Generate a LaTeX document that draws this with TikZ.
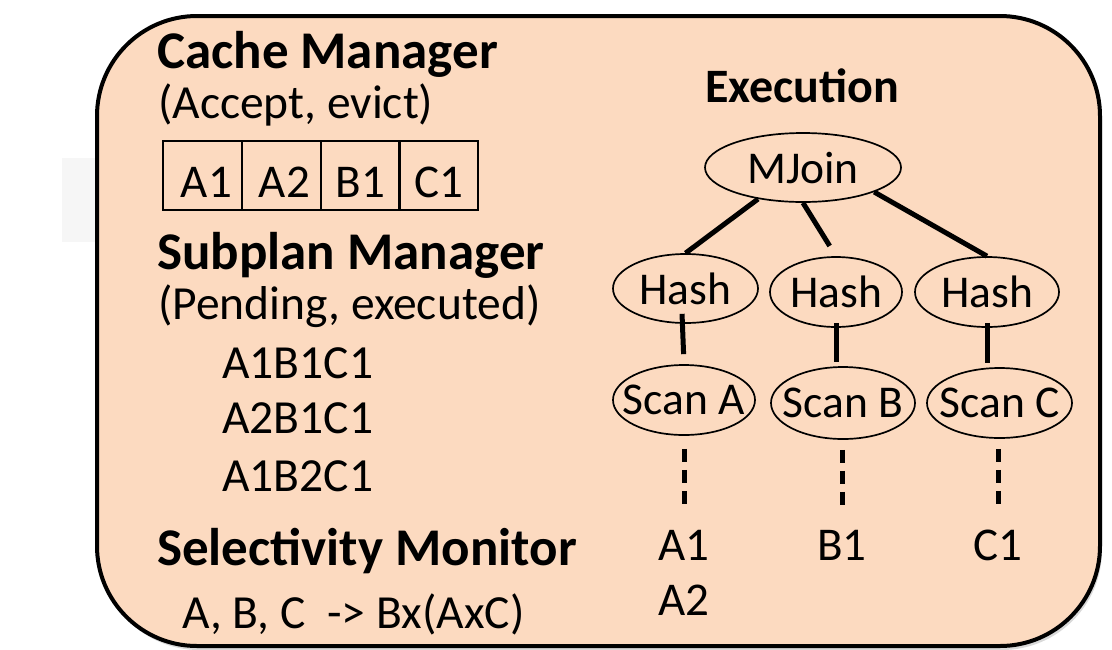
\documentclass[tikz,border=0pt]{standalone}
\usepackage{fontspec}
\setmainfont{Carlito}
\usepackage{tikz}
\usetikzlibrary{shapes.geometric,shadows}
\definecolor{peche}{RGB}{252, 218, 192}
\definecolor{ombre}{RGB}{246, 246, 246}
\newcommand{\opnom}[1]{\makebox[0pt]{#1}}

\tikzset{
  panel/.style={draw, line width=4pt, fill=peche, rounded corners=100pt,
    drop shadow={opacity=0.3, shadow xshift=2pt, shadow yshift=-4pt}},
  head/.style={anchor=base west, inner sep=0pt, font=\fontsize{53}{60}\selectfont\bfseries},
  body/.style={anchor=base west, inner sep=0pt, font=\fontsize{47.5}{54}\selectfont},
  cell/.style={draw, line width=1.7pt, minimum width=79pt, minimum height=69pt,
    inner sep=0pt, text height=44pt, text depth=0pt, font=\fontsize{47}{54}\selectfont},
  op/.style={draw, ellipse, line width=1.7pt, inner sep=0pt, font=\fontsize{45.5}{52}\selectfont},
  flux/.style={anchor=base, inner sep=0pt, font=\fontsize{47}{54}\selectfont},
  lien/.style={line width=5pt},
  tirets/.style={line width=5pt, dash pattern=on 13pt off 8pt}
}

\begin{document}
\begin{tikzpicture}[x=1pt, y=-1pt]
  \useasboundingbox (0,0) rectangle (1112,649);
  \fill[ombre] (62,158) rectangle (97,242);
  \node[panel, minimum width=1003pt, minimum height=630pt] (cadre) at (598.5,331) {};

  \node[head] (cachehd) at (157,68) {Cache Manager};
  \node[body] (cachesub) at (158,118) {(Accept, evict)};
  \node[cell] (a1c) at (202.5,175.5) {\hspace{8pt}A1};
  \node[cell] (a2c) at (281.5,175.5) {\hspace{6pt}A2};
  \node[cell] (b1c) at (360.5,175.5) {B1};
  \node[cell] (c1c) at (438.5,175.5) {C1};

  \node[head] (planhd) at (157,269) {Subplan Manager};
  \node[body] (plansub) at (158,319) {(Pending, executed)};
  \node[body] (p1) at (222,378) {A1B1C1};
  \node[body] (p2) at (222,433) {A2B1C1};
  \node[body] (p3) at (222,491) {A1B2C1};

  \node[head] (selhd) at (157,565) {Selectivity Monitor};
  \node[body] (selsub) at (182,628) {A, B, C\ \ -> Bx(AxC)};

  \node[anchor=base, inner sep=0pt, font=\fontsize{48}{54}\selectfont\bfseries] (exec) at (802,102) {Execution};

  \node[op, minimum width=196pt, minimum height=69pt] (mjoin) at (803,167.5) {\opnom{MJoin}};
  \node[op, minimum width=145pt, minimum height=69pt] (hash1) at (685.5,288.5) {\opnom{Hash}};
  \node[op, minimum width=132pt, minimum height=70pt] (hash2) at (836,292) {\opnom{Hash}};
  \node[op, minimum width=144pt, minimum height=70pt] (hash3) at (987,292) {\opnom{Hash}};
  \node[op, minimum width=142pt, minimum height=70pt] (scana) at (684,400) {\opnom{Scan A}};
  \node[op, minimum width=144pt, minimum height=72pt] (scanb) at (843,403) {\opnom{Scan B}};
  \node[op, minimum width=145pt, minimum height=70pt] (scanc) at (999.5,403) {\opnom{Scan C}};

  \node[flux] (a1) at (684,560) {A1};
  \node[flux] (a2) at (684,615) {A2};
  \node[flux] (b1) at (842,560) {B1};
  \node[flux] (c1) at (998,560) {C1};

  \draw[lien] (mjoin.215) -- (hash1.north);
  \draw[lien, shorten >=12pt] (mjoin.south) -- (hash2.north);
  \draw[lien] (mjoin.341) -- (hash3.north);
  \draw[lien, shorten <=-10pt, shorten >=10pt] (hash1.265) -- (scana.north);
  \draw[lien, shorten <=-5pt, shorten >=4pt] (hash2.south) -- (hash2.south |- scanb.north);
  \draw[lien, shorten <=-5pt, shorten >=4pt] (hash3.south) -- (hash3.south |- scanc.north);
  \draw[tirets, shorten <=13pt, shorten >=25pt] (scana.south -| a1.north) -- (a1.north);
  \draw[tirets, shorten <=10pt, shorten >=25pt] (scanb.south -| b1.north) -- (b1.north);
  \draw[tirets, shorten <=10pt, shorten >=25pt] (scanc.south -| c1.north) -- (c1.north);
\end{tikzpicture}
\end{document}
